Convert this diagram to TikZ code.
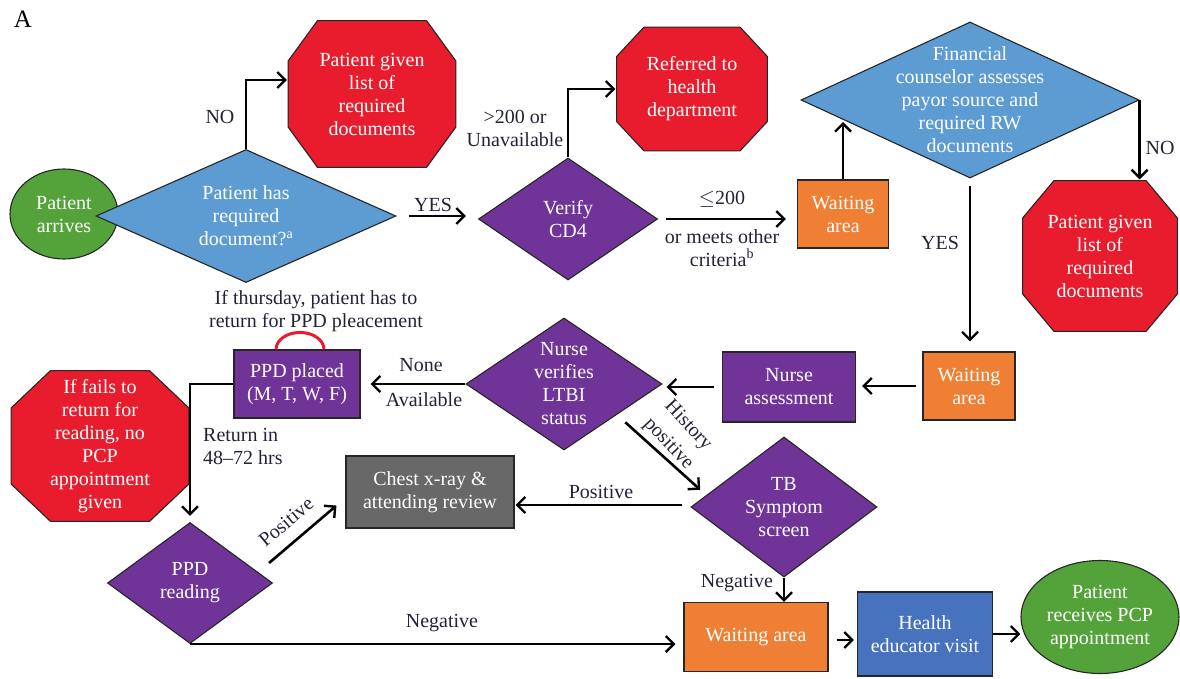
\documentclass[tikz,border=0pt]{standalone}
\usepackage{fontspec}
\setmainfont{Liberation Serif}
\usetikzlibrary{shapes.geometric,arrows.meta}
\definecolor{okgreen}{RGB}{84,163,58}
\definecolor{askblue}{RGB}{93,155,211}
\definecolor{stopred}{RGB}{232,28,45}
\definecolor{nursepurple}{RGB}{112,52,152}
\definecolor{waitorange}{RGB}{238,127,52}
\definecolor{xraygray}{RGB}{104,104,104}
\definecolor{educblue}{RGB}{70,114,190}
\definecolor{labelnavy}{RGB}{35,35,55}
\tikzset{
  shp/.style={draw=black!85, line width=1.1pt, inner sep=0pt, text=white,
    font=\fontsize{20}{23}\selectfont, align=center},
  inside/.style={label={[shp, draw=none]center:{#1}}},
  % octagon drawn inside a plain box: #1 = corner cut across, #2 = corner cut down
  stop/.style 2 args={shp, rectangle, draw=none, fill=white, path picture={
    \fill[stopred, draw=black!85, line width=1.1pt]
      ([xshift=#1, yshift=-.6pt]path picture bounding box.north west)
      -- ([xshift=-#1, yshift=-.6pt]path picture bounding box.north east)
      -- ([xshift=-.6pt, yshift=-#2]path picture bounding box.north east)
      -- ([xshift=-.6pt, yshift=#2]path picture bounding box.south east)
      -- ([xshift=-#1, yshift=.6pt]path picture bounding box.south east)
      -- ([xshift=#1, yshift=.6pt]path picture bounding box.south west)
      -- ([xshift=.6pt, yshift=#2]path picture bounding box.south west)
      -- ([xshift=.6pt, yshift=-#2]path picture bounding box.north west) -- cycle;}},
  decide/.style={shp, diamond},
  stepbox/.style={shp, rectangle},
  oval/.style={shp, ellipse, fill=okgreen},
  flow/.style={line width=2.6pt, -{Straight Barb[length=8pt,width=16pt,line width=2.4pt]}},
  gap/.style 2 args={shorten <=#1, shorten >=#2},
  note/.style={text=labelnavy, font=\fontsize{20}{23}\selectfont, align=center, inner sep=0pt},
}
\begin{document}
\begin{tikzpicture}[x=1pt, y=-1pt]
  \useasboundingbox (0,0) rectangle (1180,679);
  \node[font=\fontsize{25}{25}\selectfont] (panel) at (23,19) {A}; % panel letter
  % top row
  \node[oval, minimum width=108pt, minimum height=90pt] (arrive) at (64,214) {Patient\\arrives};
  \node[decide, fill=askblue, minimum width=300pt, minimum height=133pt,
    inside={Patient has\\required\\document?\textsuperscript{a}}] (hasdoc) at (246,216) {};
  \node[stop={30pt}{41pt}, minimum width=169pt, minimum height=148pt] (list1) at (372,94) {Patient given\\list of\\required\\documents};
  \node[decide, fill=nursepurple, minimum width=179pt, minimum height=122pt,
    inside={Verify\\CD4}] (cd4) at (568,219) {};
  \node[stop={28pt}{30pt}, minimum width=152pt, minimum height=125pt] (dept) at (692,89) {Referred to\\health\\department};
  \node[stepbox, fill=waitorange, minimum width=91pt, minimum height=68pt] (wait1) at (843,214) {Waiting\\area};
  \node[decide, fill=askblue, minimum width=338pt, minimum height=156pt,
    inside={Financial\\counselor assesses\\payor source and\\required RW\\documents}] (finance) at (970,100) {};
  \node[stop={32pt}{38pt}, minimum width=156pt, minimum height=152pt] (list2) at (1100,256) {Patient given\\list of\\required\\documents};
  % middle row
  \node[stepbox, fill=waitorange, minimum width=92pt, minimum height=68pt] (wait2) at (969,386) {Waiting\\area};
  \node[stepbox, fill=nursepurple, minimum width=133pt, minimum height=70pt] (nurse) at (789,387) {Nurse\\assessment};
  \node[decide, fill=nursepurple, minimum width=196pt, minimum height=132pt,
    inside={Nurse\\verifies\\LTBI\\status}] (ltbi) at (564,384) {};
  \node[stepbox, fill=nursepurple, minimum width=126pt, minimum height=68pt] (ppd) at (297,384) {PPD placed\\(M, T, W, F)};
  \node[stop={40pt}{38pt}, minimum width=179pt, minimum height=152pt] (fail) at (100,446) {If fails to\\return for\\reading, no\\PCP\\appointment\\given};
  % bottom rows
  \node[decide, fill=nursepurple, minimum width=165pt, minimum height=121pt,
    inside={PPD\\reading}] (reading) at (190,583) {};
  \node[stepbox, fill=xraygray, minimum width=168pt, minimum height=72pt] (xray) at (430,492) {Chest x-ray \&\\attending review};
  \node[decide, fill=nursepurple, minimum width=186pt, minimum height=140pt,
    inside={TB\\Symptom\\screen}] (tb) at (784,507) {};
  \node[stepbox, fill=waitorange, minimum width=144pt, minimum height=69pt] (wait3) at (756,637) {Waiting area};
  \node[stepbox, fill=educblue, minimum width=135pt, minimum height=84pt] (educ) at (925,634) {Health\\educator visit};
  \node[oval, minimum width=158pt, minimum height=113pt] (receive) at (1100,617) {Patient\\receives PCP\\appointment};

  % connectors
  \draw[flow] (hasdoc.north) |- ([yshift=14pt]list1.west);
  \draw[flow, gap={12pt}{12pt}] (hasdoc.east) -- (hasdoc.east -| cd4.west);
  \draw[flow] (cd4.north) |- (dept.west);
  \draw[flow, gap={8pt}{11pt}] (cd4.east) -- (cd4.east -| wait1.west);
  \draw[flow, shorten >=22pt] (wait1.north) -- (wait1.north |- finance.west);
  \draw[flow] (finance.east) -- (finance.east |- list2.north);
  \draw[flow, gap={7pt}{10pt}] (finance.south) -- (finance.south |- wait2.north);
  \draw[flow, gap={6pt}{6pt}] (wait2.west) -- (wait2.west -| nurse.east);
  \draw[flow, gap={8pt}{4pt}] (nurse.west) -- (nurse.west -| ltbi.east);
  \draw[flow, shorten >=10pt] (ltbi.west) -- (ltbi.west -| ppd.east);
  \draw[flow, shorten >=6pt] (ppd.west) -| (reading.north);
  \draw[flow] ([xshift=-4pt,yshift=20pt]reading.east) -- ([xshift=-9pt,yshift=23pt]xray.south west);
  \draw[flow, gap={8pt}{1pt}] ([yshift=2pt]tb.west) -- ([yshift=2pt]tb.west -| xray.east);
  \draw[flow] ([xshift=12pt,yshift=-5pt]ltbi.south east) -- ([xshift=-37pt,yshift=-18pt]tb.north west);
  \draw[flow] (tb.south) -- (tb.south |- wait3.north);
  \draw[flow, shorten >=8pt] (reading.south) -- (reading.south -| wait3.west);
  \draw[flow, gap={8pt}{3pt}] ([yshift=-3pt]wait3.east) -- ([yshift=-3pt]wait3.east -| educ.west);
  \draw[flow] (educ.east) -- (educ.east -| receive.west);
  \draw[stopred, line width=3pt] ([xshift=-21pt]ppd.north) arc[start angle=180, end angle=0, x radius=24pt, y radius=17pt]; % reminder arc

  % labels
  \node[note] (lno1) at (220,117) {NO};
  \node[note] (lyes1) at (433,205) {YES};
  \node[note] (lhigh) at (515,128) {>200 or\\Unavailable};
  \node[note] (llow) at (722,199) {$\leq$200};
  \node[note] (lcrit) at (722,248) {or meets other\\criteria\textsuperscript{b}};
  \node[note] (lno2) at (1160,148) {NO};
  \node[note] (lyes2) at (940,243) {YES};
  \node[note] (lthu) at (316,311) {If thursday, patient has to\\return for PPD pleacement};
  \node[note] (lnone) at (421,365) {None};
  \node[note] (lavail) at (424,400) {Available};
  \node[note, anchor=west, align=left] (lret) at (203,446) {Return in\\48--72 hrs};
  \node[note, rotate=40] (lpos1) at (286,522) {Positive};
  \node[note] (lpos2) at (601,492) {Positive};
  \node[note, rotate=-47, font=\fontsize{20}{27}\selectfont] (lhist) at (678,435) {History\\positive};
  \node[note] (lneg1) at (737,583) {Negative};
  \node[note] (lneg2) at (442,623) {Negative};
\end{tikzpicture}
\end{document}
